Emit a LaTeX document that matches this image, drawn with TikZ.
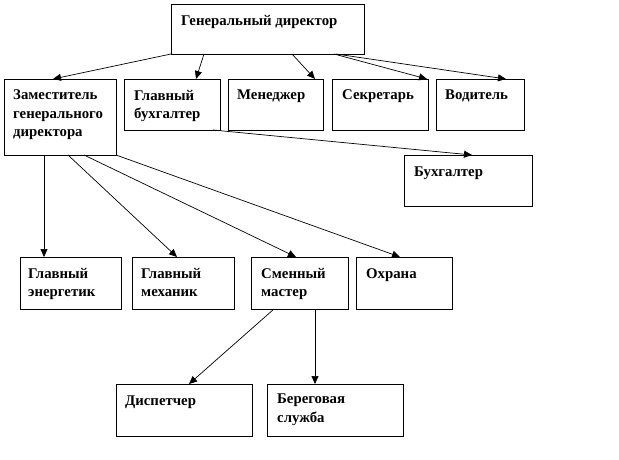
\documentclass[tikz,border=0pt]{standalone}
\usepackage{fontspec}
\setmainfont{Liberation Serif}
\usetikzlibrary{arrows.meta,calc}
\tikzset{
  box/.style={draw, line width=0.9pt, inner sep=0pt, outer sep=0pt},
  lbl/.style={anchor=north west, inner sep=0pt, align=left, font=\bfseries\fontsize{14.8}{18.5}\selectfont},
  arr/.style={-{Triangle[length=8pt,width=7pt]}, line width=0.7pt},
}
\newcommand\mybox[5]{\node[box, minimum width={#4-#2}, minimum height={#5-#3}] (#1) at ({(#2+#4)/2},{(#3+#5)/2}) {};}
\begin{document}
\begin{tikzpicture}[x=1pt,y=-1pt]
\useasboundingbox (0,0) rectangle (619,460);
\mybox{gd}{171}{4}{364}{54}
\mybox{zam}{4}{79}{116}{155}
\mybox{gb}{124}{79}{220}{130}
\mybox{men}{228}{79}{323}{130}
\mybox{sec}{332}{79}{428}{130}
\mybox{vod}{436}{79}{524}{130}
\mybox{buh}{404}{155}{532}{206}
\mybox{en}{20}{257}{121}{309}
\mybox{mech}{132}{257}{234}{309}
\mybox{sm}{251}{257}{348}{309}
\mybox{ohr}{356}{257}{452}{309}
\mybox{disp}{116}{384}{252}{436}
\mybox{ber}{267}{384}{403}{436}

\node[lbl] (tgd) at ($(gd.north west)+(10,11)$) {Генеральный директор};
\node[lbl] (tzam) at ($(zam.north west)+(9,11)$) {Заместитель\\генерального\\директора};
\node[lbl] (tgb) at ($(gb.north west)+(10,11)$) {Главный\\бухгалтер};
\node[lbl] (tmen) at ($(men.north west)+(9,11)$) {Менеджер};
\node[lbl] (tsec) at ($(sec.north west)+(10,11)$) {Секретарь};
\node[lbl] (tvod) at ($(vod.north west)+(9,11)$) {Водитель};
\node[lbl] (tbuh) at ($(buh.north west)+(10,12)$) {Бухгалтер};
\node[lbl] (ten) at ($(en.north west)+(8,11)$) {Главный\\энергетик};
\node[lbl] (tmech) at ($(mech.north west)+(9,11)$) {Главный\\механик};
\node[lbl] (tsm) at ($(sm.north west)+(10,11)$) {Сменный\\мастер};
\node[lbl] (tohr) at ($(ohr.north west)+(10,11)$) {Охрана};
\node[lbl] (tdisp) at ($(disp.north west)+(9,12)$) {Диспетчер};
\node[lbl] (tber) at ($(ber.north west)+(10,10)$) {Береговая\\служба};

\draw[arr] (gd.south west) -- ($(zam.north west)+(49,0)$);
\draw[arr] ($(gd.south west)+(33,0)$) -- ($(gb.north west)+(72,0)$);
\draw[arr] ($(gd.south west)+(121,0)$) -- ($(men.north west)+(87,0)$);
\draw[arr] ($(gd.south west)+(163,0)$) -- ($(sec.north west)+(95,0)$);
\draw[arr] ($(gd.south west)+(165,0)$) -- ($(vod.north west)+(70,0)$);
\draw[arr] ($(gb.south east)+(-7,0)$) -- ($(buh.north west)+(68,0)$);

\coordinate (zen) at ($(zam.south west)+(40,0)$);
\draw[arr] (zen) -- (zen |- en.north);
\draw[arr] ($(zam.south west)+(64,0)$) -- ($(mech.north west)+(45,0)$);
\draw[arr] ($(zam.south west)+(80,0)$) -- ($(sm.north west)+(45,0)$);
\draw[arr] (zam.south east) -- ($(ohr.north west)+(44,0)$);

\draw[arr] ($(sm.south west)+(23,0)$) -- ($(disp.north west)+(73,0)$);
\coordinate (smb) at ($(sm.south west)+(64,0)$);
\draw[arr] (smb) -- (smb |- ber.north);
\end{tikzpicture}
\end{document}
